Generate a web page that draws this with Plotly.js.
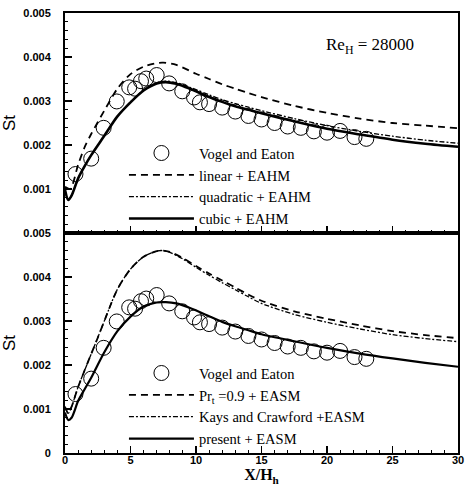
<!DOCTYPE html>
<html>
<head>
<meta charset="utf-8">
<script src="https://cdn.plot.ly/plotly-3.0.1.min.js"></script>
<style>html,body{margin:0;padding:0;background:#fff;}#chart{width:465px;height:486px;}</style>
</head>
<body>
<div id="chart"></div>
<script>
// Vogel and Eaton experiment (same data in both panels)
const veX  = [0.8, 2.0, 2.95, 3.95, 4.9, 5.35, 5.8, 6.2, 7.0, 7.95, 8.95, 9.85, 10.3, 11.0, 12.0, 13.0, 14.0, 15.0, 16.0, 17.0, 18.0, 19.0, 20.0, 21.0, 22.1, 23.0];
const veSt = [0.00134, 0.00169, 0.00239, 0.00299, 0.00331, 0.00328, 0.00345, 0.00351, 0.00359, 0.0034, 0.00322, 0.00308, 0.00297, 0.00293, 0.00285, 0.00276, 0.00266, 0.00258, 0.0025, 0.00242, 0.00239, 0.00231, 0.00228, 0.00232, 0.00218, 0.00214];

// Top panel: EAHM variants
const linX  = [0, 0.4, 1, 1.5, 2, 3, 4, 5, 6, 7, 7.5, 8.5, 10, 11, 12, 13, 14, 15, 17.5, 20, 22.5, 25, 27.5, 30];
const linSt = [0.00105, 0.001, 0.00155, 0.00195, 0.00225, 0.00278, 0.00328, 0.00361, 0.00378, 0.00386, 0.00387, 0.00382, 0.00362, 0.0035, 0.00338, 0.00328, 0.00318, 0.00309, 0.00289, 0.00273, 0.0026, 0.0025, 0.00244, 0.00238];

const quadX  = [0, 0.25, 0.5, 1, 1.5, 2, 3, 4, 5, 6, 7, 7.7, 8.5, 9, 10, 11, 12, 13, 14, 15, 17.5, 20, 22.5, 25, 27.5, 30];
const quadSt = [0.00098, 0.00075, 0.00085, 0.00124, 0.00152, 0.00177, 0.00221, 0.00265, 0.00298, 0.00325, 0.00341, 0.00345, 0.00342, 0.00337, 0.00326, 0.00314, 0.00303, 0.00294, 0.00286, 0.00278, 0.0026, 0.00244, 0.00231, 0.0022, 0.00211, 0.00204];

const cubX  = [0, 0.25, 0.5, 1, 1.5, 2, 3, 4, 5, 6, 7, 7.7, 8.5, 9, 10, 11, 12, 13, 14, 15, 17.5, 20, 22.5, 25, 27.5, 30];
const cubSt = [0.00098, 0.00075, 0.00085, 0.00124, 0.00152, 0.00177, 0.00221, 0.00265, 0.00297, 0.00324, 0.0034, 0.00343, 0.00339, 0.00334, 0.00322, 0.00309, 0.00298, 0.00288, 0.0028, 0.00272, 0.00254, 0.00237, 0.00224, 0.00212, 0.00203, 0.00196];

// Bottom panel: EASM variants
const prX  = [0, 0.25, 0.5, 1, 1.5, 2, 2.5, 3, 4, 5, 6, 7, 7.5, 8, 9, 10, 11, 12, 13, 14, 15, 17.5, 20, 22.5, 25, 27.5, 30];
const prSt = [0.00105, 0.0009, 0.00105, 0.0015, 0.00188, 0.00225, 0.00262, 0.003, 0.00372, 0.00418, 0.00446, 0.00459, 0.0046, 0.00457, 0.00443, 0.00425, 0.00408, 0.00392, 0.00376, 0.0036, 0.00346, 0.00322, 0.00305, 0.0029, 0.00277, 0.00268, 0.00261];

const kcX  = [0, 0.25, 0.5, 1, 1.5, 2, 2.5, 3, 4, 5, 6, 7, 7.5, 8, 9, 10, 11, 12, 13, 14, 15, 17.5, 20, 22.5, 25, 27.5, 30];
const kcSt = [0.00105, 0.0009, 0.00105, 0.0015, 0.00188, 0.00225, 0.00262, 0.003, 0.00372, 0.00418, 0.00446, 0.00459, 0.0046, 0.00456, 0.00441, 0.00422, 0.00404, 0.00387, 0.00371, 0.00355, 0.0034, 0.00315, 0.00297, 0.00282, 0.00269, 0.0026, 0.00253];

const preX  = [0, 0.25, 0.5, 1, 1.5, 2, 3, 4, 5, 6, 7, 7.7, 8.5, 9.5, 11, 12, 13, 14, 15, 17.5, 20, 22.5, 25, 27.5, 30];
const preSt = [0.00092, 0.00075, 0.0008, 0.00118, 0.00145, 0.00171, 0.00229, 0.00277, 0.0031, 0.00333, 0.00342, 0.00343, 0.0034, 0.0033, 0.00311, 0.00298, 0.00288, 0.00279, 0.0027, 0.00254, 0.00239, 0.00226, 0.00215, 0.00205, 0.00196];

// Tick labels
const xTickVals = [0, 5, 10, 15, 20, 25, 30];
const xTickText = ['0', '5', '10', '15', '20', '25', '30'];
const yTopVals = [0.001, 0.002, 0.003, 0.004, 0.005];
const yTopText = ['0.001', '0.002', '0.003', '0.004', '0.005'];
const yBotVals = [0, 0.001, 0.002, 0.003, 0.004, 0.005];
const yBotText = ['0', '0.001', '0.002', '0.003', '0.004', '0.005'];

const legendNames = {
  ve: 'Vogel and Eaton',
  lin: 'linear + EAHM',
  quad: 'quadratic + EAHM',
  cub: 'cubic + EAHM',
  pr: 'Pr<sub>t</sub> =0.9 + EASM',
  kc: 'Kays and Crawford +EASM',
  pre: 'present + EASM'
};

const sp = {shape: 'spline', smoothing: 0.8};
const circ = {symbol: 'circle-open', size: 15, color: '#000', line: {width: 1, color: '#000'}};

const traces = [
  {x: veX, y: veSt, xaxis: 'x2', yaxis: 'y2', mode: 'markers', marker: circ, name: legendNames.ve, legend: 'legend'},
  {x: linX, y: linSt, xaxis: 'x2', yaxis: 'y2', mode: 'lines', line: Object.assign({color: '#000', width: 1.8, dash: '7px,5px'}, sp), name: legendNames.lin, legend: 'legend'},
  {x: quadX, y: quadSt, xaxis: 'x2', yaxis: 'y2', mode: 'lines', line: Object.assign({color: '#000', width: 1.3, dash: '5px,2px,2px,2px'}, sp), name: legendNames.quad, legend: 'legend'},
  {x: cubX, y: cubSt, xaxis: 'x2', yaxis: 'y2', mode: 'lines', line: Object.assign({color: '#000', width: 2.6}, sp), name: legendNames.cub, legend: 'legend'},

  {x: veX, y: veSt, xaxis: 'x', yaxis: 'y', mode: 'markers', marker: circ, name: legendNames.ve, legend: 'legend2'},
  {x: prX, y: prSt, xaxis: 'x', yaxis: 'y', mode: 'lines', line: Object.assign({color: '#000', width: 1.8, dash: '7px,5px'}, sp), name: legendNames.pr, legend: 'legend2'},
  {x: kcX, y: kcSt, xaxis: 'x', yaxis: 'y', mode: 'lines', line: Object.assign({color: '#000', width: 1.3, dash: '5px,2px,2px,2px'}, sp), name: legendNames.kc, legend: 'legend2'},
  {x: preX, y: preSt, xaxis: 'x', yaxis: 'y', mode: 'lines', line: Object.assign({color: '#000', width: 2.2}, sp), name: legendNames.pre, legend: 'legend2'}
];

const tickFont = {family: 'Liberation Sans, Arial, sans-serif', size: 11, color: '#000', weight: 'bold'};
const serif = 'Liberation Serif, Times New Roman, serif';

const xBase = {
  range: [0, 30], tickvals: xTickVals, ticktext: xTickText,
  ticks: 'inside', ticklen: 7, tickwidth: 1.5, tickcolor: '#000',
  minor: {dtick: 1, ticks: 'inside', ticklen: 3, tickwidth: 1, tickcolor: '#000', showgrid: false},
  showline: true, linewidth: 2, linecolor: '#000', mirror: true,
  showgrid: false, zeroline: false, tickfont: tickFont, ticklabeloverflow: 'allow'
};
const yBase = {
  range: [0, 0.005],
  ticks: 'inside', ticklen: 7, tickwidth: 1.5, tickcolor: '#000',
  minor: {dtick: 0.0002, ticks: 'inside', ticklen: 3, tickwidth: 1, tickcolor: '#000', showgrid: false},
  showline: true, linewidth: 2, linecolor: '#000', mirror: true,
  showgrid: false, zeroline: false, tickfont: tickFont, ticklabelstandoff: 10,
  title: {text: 'St', font: {family: 'Liberation Sans, Arial, sans-serif', size: 17, color: '#000'}, standoff: 9}
};

const legBase = {
  xanchor: 'left', yanchor: 'top', bgcolor: 'rgba(0,0,0,0)', borderwidth: 0,
  itemwidth: 65, tracegroupgap: 0,
  font: {family: serif, size: 14.5, color: '#000'}
};

const layout = {
  width: 465, height: 486,
  margin: {l: 65, r: 7, t: 13, b: 33},
  paper_bgcolor: '#fff', plot_bgcolor: '#fff',
  showlegend: true,
  xaxis: Object.assign({}, xBase, {anchor: 'y', domain: [0, 1], ticklabelstandoff: -4,
    title: {text: 'X/H<sub>h</sub>', font: {family: serif, size: 16, color: '#000', weight: 'bold'}, standoff: 2}}),
  xaxis2: Object.assign({}, xBase, {anchor: 'y2', domain: [0, 1], matches: 'x', showticklabels: false}),
  yaxis: Object.assign({}, yBase, {anchor: 'x', domain: [0, 0.5], tickvals: yBotVals, ticktext: yBotText}),
  yaxis2: Object.assign({}, yBase, {anchor: 'x2', domain: [0.5, 1], tickvals: yTopVals, ticktext: yTopText}),
  legend: Object.assign({}, legBase, {x: 0.15, y: 0.718}),
  legend2: Object.assign({}, legBase, {x: 0.15, y: 0.218}),
  annotations: [
    {text: 'Re<sub>H</sub> = 28000', xref: 'paper', yref: 'paper', x: 0.775, y: 0.925,
     xanchor: 'center', yanchor: 'middle',
     showarrow: false, font: {family: serif, size: 17, color: '#000'}}
  ]
};

Plotly.newPlot('chart', traces, layout, {displayModeBar: false, staticPlot: true});
</script>
</body>
</html>
